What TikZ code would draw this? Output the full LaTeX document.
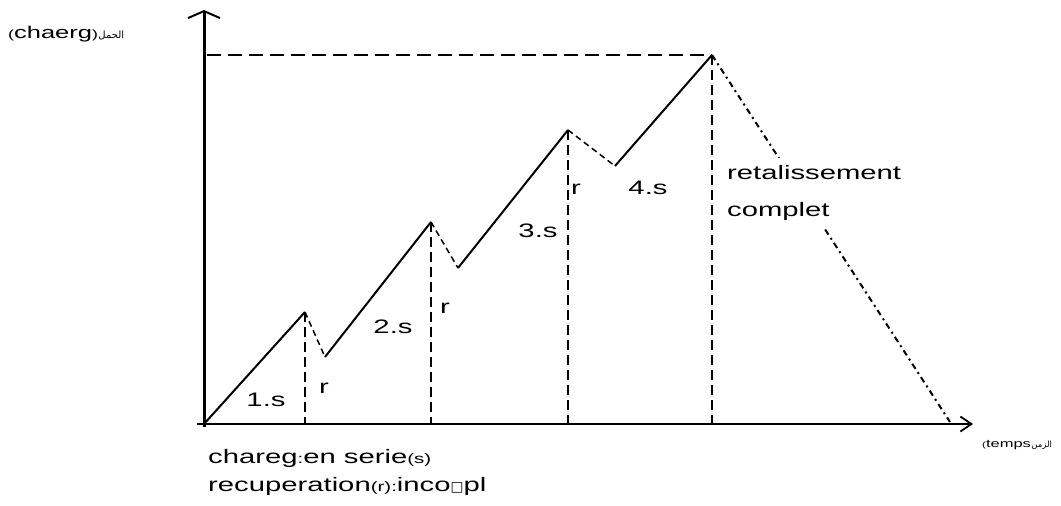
\documentclass[tikz,border=0pt]{standalone}
\usepackage{fontspec}
\usetikzlibrary{arrows.meta}
\newfontfamily\lblfont[FakeStretch=1.5]{Liberation Sans}
\newfontfamily\arfont[Script=Arabic]{DejaVu Sans}
\newfontfamily\symfont{DejaVu Sans}
\TeXXeTstate=1
\newcommand\smlp[1]{\scalebox{0.7}{#1}}
\begin{document}
\begin{tikzpicture}[x=1pt,y=-1pt,
  lbl/.style={font=\lblfont\fontsize{19.5}{37}\selectfont, inner sep=0pt},
  smalllbl/.style={font=\lblfont\fontsize{17}{19}\selectfont, inner sep=0pt},
  tinylbl/.style={font=\lblfont\fontsize{11}{13}\selectfont, inner sep=0pt},
  arlbl/.style={font=\arfont\fontsize{10}{12}\selectfont, inner sep=0pt},
  arsmall/.style={font=\arfont\fontsize{8.5}{10}\selectfont, inner sep=0pt},
  axisline/.style={line width=2.6pt},
  rise/.style={line width=2pt},
  fall/.style={line width=1.5pt, dash pattern=on 6pt off 4pt},
  guide/.style={line width=1.3pt, dash pattern=on 10pt off 5pt},
  topguide/.style={line width=1.3pt, dash pattern=on 14pt off 7pt},
  recov/.style={line width=2pt, dash pattern=on 6pt off 4pt on 2pt off 4pt}]
\useasboundingbox (0,0) rectangle (1061,506);
% key points
\coordinate (O) at (204,424);
\coordinate (ybot) at (204,427);
\coordinate (ytop) at (204,10);
\coordinate (xst) at (197,424);
\coordinate (xend) at (973,424);
\coordinate (p1) at (305,312);
\coordinate (t1) at (325,357);
\coordinate (p2) at (431,222);
\coordinate (t2) at (458,268);
\coordinate (p3) at (568,130);
\coordinate (t3) at (615,166);
\coordinate (p4) at (712,55);
\coordinate (e) at (950,422);
\coordinate (h0) at (207,55);
% axes
\draw[axisline, line width=3pt, -{Straight Barb[length=7pt,width=32pt,line width=2pt]}] (ybot) -- (ytop);
\draw[axisline, -{Straight Barb[length=11pt,width=15pt,line width=1.8pt]}] (xst) -- (xend);
% guides
\draw[topguide] (h0) -- (p4);
\draw[guide] (p1) -- (p1 |- O);
\draw[guide] (p2) -- (p2 |- O);
\draw[guide] (p3) -- (p3 |- O);
\draw[guide] (p4) -- (p4 |- O);
% load curve
\draw[rise] (O) -- (p1);
\draw[fall] (p1) -- (t1);
\draw[rise] (t1) -- (p2);
\draw[fall] (p2) -- (t2);
\draw[rise] (t2) -- (p3);
\draw[fall] (p3) -- (t3);
\draw[rise] (t3) -- (p4);
\draw[recov] (p4) -- (e);
% labels
\node[lbl, anchor=base] (s1) at (266,406) {1.s};
\node[lbl, anchor=base] (r1) at (324,393) {r};
\node[lbl, anchor=base] (s2) at (393,333) {2.s};
\node[lbl, anchor=base] (r2) at (445,313) {r};
\node[lbl, anchor=base] (s3) at (538,237) {3.s};
\node[lbl, anchor=base] (r3) at (576,194) {r};
\node[lbl, anchor=base] (s4) at (648,194) {4.s};
\node[lbl, fill=white, align=left, anchor=north west, inner xsep=2pt, inner ysep=7pt] (rc) at (725,158) {retalissement\\complet};
\node[lbl, anchor=base west] (leg1) at (208,463) {chareg\smlp{:}en serie\smlp{(s)}};
\node[lbl, anchor=base west] (leg2) at (208,491) {recuperation\smlp{(r)}\smlp{:}inco\scalebox{0.7}{\symfont □}pl};
\node[smalllbl, anchor=base west] (ylab) at (8,38) {\smlp{(}chaerg\smlp{)}};
\node[arlbl, anchor=base west] (ylabar) at (ylab.base east) {\beginR الحمل\endR};
\node[tinylbl, anchor=base west] (xlab) at (982,447) {\smlp{(}temps};
\node[arsmall, anchor=base west] (xlabar) at (xlab.base east) {\beginR الزمن\endR};
\end{tikzpicture}
\end{document}
